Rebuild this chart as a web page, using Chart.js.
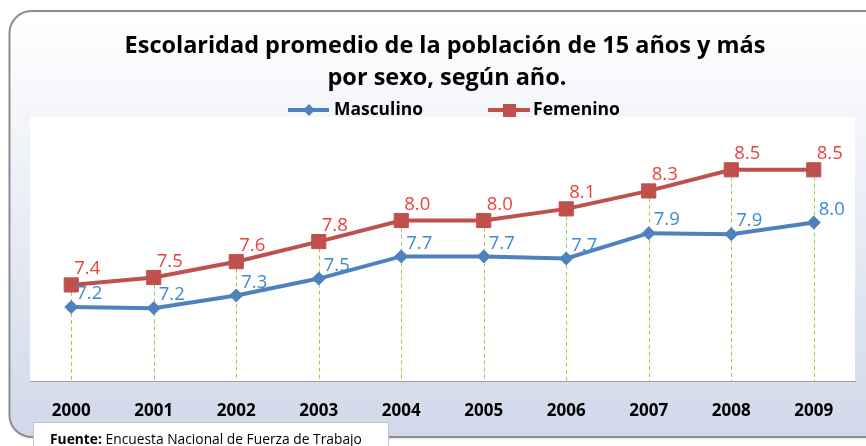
<!DOCTYPE html>
<html><head><meta charset="utf-8">
<script src="https://cdn.jsdelivr.net/npm/chart.js@4"></script>
<style>html,body{margin:0;padding:0;background:#fff;overflow:hidden}</style>
</head><body>
<canvas id="c" width="866" height="446"></canvas>
<script>
const years = ['2000','2001','2002','2003','2004','2005','2006','2007','2008','2009'];
const masculino = [7.20, 7.19, 7.31, 7.47, 7.68, 7.68, 7.66, 7.90, 7.89, 8.00];
const femenino  = [7.41, 7.48, 7.63, 7.82, 8.02, 8.02, 8.13, 8.30, 8.50, 8.50];
const seriesNames = ['Masculino', 'Femenino'];
const titleLines = ['Escolaridad promedio de la población de 15 años y más', 'por sexo, según año.'];
const sourceLabel = 'Fuente:';
const sourceText = ' Encuesta Nacional de Fuerza de Trabajo';

const FONT = '"Open Sans", "DejaVu Sans", sans-serif';
function fitFont(ctx, text, width, weight) {
  ctx.font = weight + ' 100px ' + FONT;
  const w = ctx.measureText(text).width;
  const size = 100 * width / w;
  ctx.font = weight + ' ' + size.toFixed(2) + 'px ' + FONT;
  return size;
}

const deco = {
  id: 'deco',
  beforeDraw(chart) {
    const ctx = chart.ctx, a = chart.chartArea;
    ctx.save();
    ctx.fillStyle = '#ffffff';
    ctx.fillRect(0, 0, chart.width, chart.height);
    const g = ctx.createLinearGradient(0, 11, 0, 437);
    g.addColorStop(0, '#ffffff');
    g.addColorStop(1, '#d0d9ea');
    ctx.beginPath();
    ctx.roundRect(9.5, 11, 890, 426, 22);
    ctx.shadowColor = 'rgba(0,0,0,0.25)';
    ctx.shadowBlur = 3; ctx.shadowOffsetX = 1; ctx.shadowOffsetY = 1;
    ctx.fillStyle = g;
    ctx.fill();
    ctx.shadowColor = 'transparent';
    ctx.lineWidth = 2;
    ctx.strokeStyle = '#8e8e8e';
    ctx.stroke();
    ctx.fillStyle = '#000';
    ctx.textBaseline = 'middle';
    ctx.textAlign = 'center';
    fitFont(ctx, titleLines[0], 641, 'bold');
    ctx.fillText(titleLines[0], 445, 46);
    ctx.fillText(titleLines[1], 447, 78);
    const ds = chart.data.datasets;
    ctx.lineWidth = 4;
    ctx.strokeStyle = ds[0].borderColor;
    ctx.beginPath(); ctx.moveTo(288, 110); ctx.lineTo(329, 110); ctx.stroke();
    ctx.fillStyle = ds[0].borderColor;
    ctx.beginPath();
    ctx.moveTo(309, 104); ctx.lineTo(315, 110); ctx.lineTo(309, 116); ctx.lineTo(303, 110); ctx.closePath();
    ctx.fill();
    ctx.strokeStyle = ds[1].borderColor;
    ctx.beginPath(); ctx.moveTo(488, 110); ctx.lineTo(530, 110); ctx.stroke();
    ctx.fillStyle = ds[1].borderColor;
    ctx.fillRect(503, 104, 13, 13);
    ctx.fillStyle = '#000';
    ctx.textAlign = 'left';
    fitFont(ctx, seriesNames[0], 89, 'bold');
    ctx.fillText(seriesNames[0], 334, 110);
    fitFont(ctx, seriesNames[1], 87, 'bold');
    ctx.fillText(seriesNames[1], 533, 110);
    ctx.fillStyle = '#ffffff';
    ctx.fillRect(a.left, a.top, a.right - a.left, a.bottom - a.top);
    ctx.fillStyle = '#ffffff';
    ctx.fillRect(33, 422, 355, 30);
    ctx.strokeStyle = '#c4c4c4';
    ctx.lineWidth = 1;
    ctx.strokeRect(33.5, 422.5, 355, 30);
    ctx.fillStyle = '#000';
    const full = sourceLabel + sourceText;
    const fs = fitFont(ctx, full, 312, 'normal');
    ctx.font = 'bold ' + fs.toFixed(2) + 'px ' + FONT;
    const wb = ctx.measureText(sourceLabel).width;
    ctx.font = 'normal ' + fs.toFixed(2) + 'px ' + FONT;
    const wr = ctx.measureText(sourceText).width;
    const fs2 = fs * 312 / (wb + wr);
    ctx.font = 'bold ' + fs2.toFixed(2) + 'px ' + FONT;
    ctx.fillText(sourceLabel, 50, 440);
    const wb2 = ctx.measureText(sourceLabel).width;
    ctx.font = 'normal ' + fs2.toFixed(2) + 'px ' + FONT;
    ctx.fillText(sourceText, 50 + wb2, 440);
    ctx.restore();
  },
  beforeDatasetsDraw(chart) {
    const ctx = chart.ctx, a = chart.chartArea;
    const xs = chart.scales.x, ys = chart.scales.y;
    ctx.save();
    ctx.strokeStyle = '#92d050';
    ctx.lineWidth = 1;
    ctx.setLineDash([4, 3]);
    for (let i = 0; i < years.length; i++) {
      const top = Math.max(masculino[i], femenino[i]);
      const x = Math.round(xs.getPixelForValue(i)) + 0.5;
      ctx.beginPath();
      ctx.moveTo(x, ys.getPixelForValue(top));
      ctx.lineTo(x, a.bottom);
      ctx.stroke();
    }
    ctx.restore();
  },
  afterDatasetsDraw(chart) {
    const ctx = chart.ctx;
    ctx.save();
    ctx.font = '18.5px ' + FONT;
    ctx.textAlign = 'left';
    ctx.textBaseline = 'middle';
    chart.data.datasets.forEach((d, di) => {
      const meta = chart.getDatasetMeta(di);
      ctx.fillStyle = d.labelColor;
      meta.data.forEach((p, i) => {
        ctx.fillText(d.data[i].toFixed(1), p.x + d.labelDx, p.y + d.labelDy);
      });
    });
    ctx.restore();
  }
};

new Chart(document.getElementById('c').getContext('2d'), {
  type: 'line',
  data: {
    labels: years,
    datasets: [
      { label: seriesNames[0], data: masculino, borderColor: '#4f81bd', backgroundColor: '#4f81bd',
        borderWidth: 4, tension: 0, pointStyle: 'rectRot', pointRadius: 6.5, pointBorderWidth: 1,
        pointBackgroundColor: '#4f81bd', pointBorderColor: '#4f81bd',
        labelColor: '#3a8ad4', labelDx: 5, labelDy: -13 },
      { label: seriesNames[1], data: femenino, borderColor: '#c0504d', backgroundColor: '#c0504d',
        borderWidth: 4, tension: 0, pointStyle: 'rect', pointRadius: 10, pointBorderWidth: 1,
        pointBackgroundColor: '#c0504d', pointBorderColor: '#c0504d',
        labelColor: '#e8413f', labelDx: 3, labelDy: -16 }
    ]
  },
  options: {
    responsive: false,
    animation: false,
    devicePixelRatio: 1,
    layout: { padding: { left: 30, right: 5, top: 117, bottom: 0 } },
    plugins: { legend: { display: false }, title: { display: false }, tooltip: { enabled: false } },
    scales: {
      x: {
        offset: true,
        grid: { display: false, drawTicks: false },
        border: { display: true, color: '#a0a0a0', width: 1 },
        ticks: { color: '#000', font: { family: FONT, size: 17, weight: 'bold' }, padding: 20, maxRotation: 0, autoSkip: false },
        afterFit(s) { s.height = 65; }
      },
      y: { display: false, min: 6.5, max: 9 }
    }
  },
  plugins: [deco]
});
</script>
</body></html>
